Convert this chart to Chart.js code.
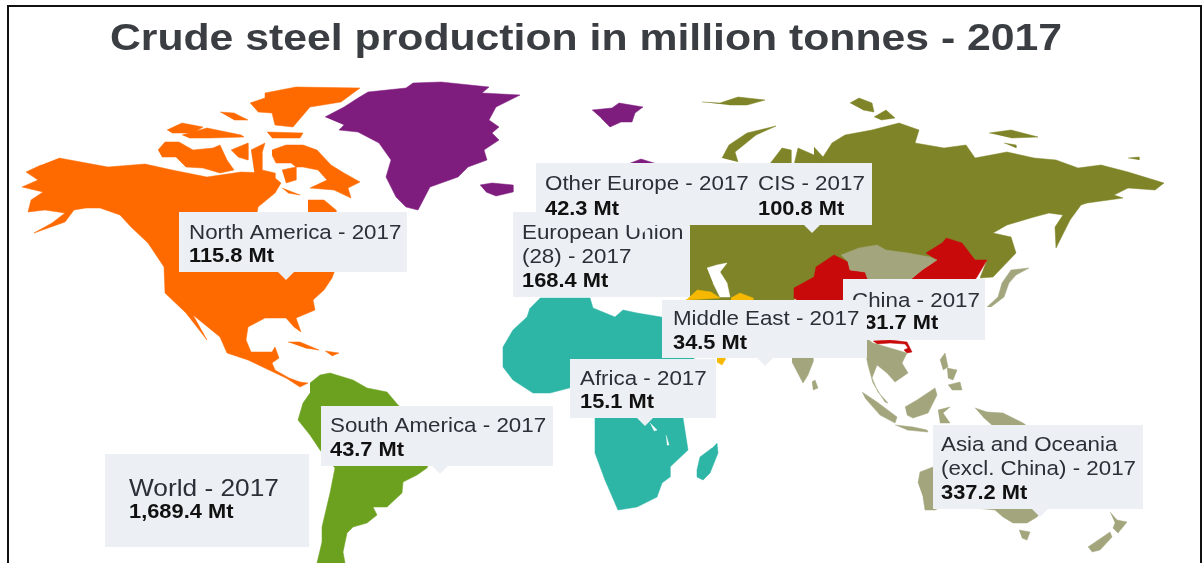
<!DOCTYPE html>
<html><head><meta charset="utf-8">
<style>
html,body{margin:0;padding:0;background:#fff;width:1203px;height:563px;overflow:hidden}
#wrap{position:relative;width:1203px;height:563px;overflow:hidden}
canvas{display:block;filter:blur(0.5px)}
#frame{position:absolute;left:7px;top:5px;width:1191px;height:600px;border:2px solid #111;pointer-events:none}
</style>
<script src="https://cdn.jsdelivr.net/npm/chart.js@4/dist/chart.umd.min.js"></script>
</head><body>
<div id="wrap"><canvas id="c" width="1203" height="563"></canvas><div id="frame"></div></div>
<script>
const TITLE = 'Crude steel production in million tonnes - 2017';
const YEAR = '2017';
const boxNames = ['World','North America','South America','Africa','China','Middle East','European Union\n(28)','Other Europe','CIS','Asia and Oceania\n(excl. China)'];
const boxValues = ['1,689.4','115.8','43.7','15.1','831.7','34.5','168.4','42.3','100.8','337.2'];

// Region outlines in map units
const northAmerica = [
 [[59,158],[108,167],[145,164],[172,170],[207,177],[241,172],[269,173],[281,183],[275,193],[258,207],[257,213],[257,270],[335,270],[332,278],[324,290],[313,300],[315,310],[296,318],[301,332],[294,327],[286,318],[265,318],[248,327],[246,340],[251,352],[272,352],[275,347],[279,358],[272,363],[275,370],[289,378],[300,382],[308,383],[300,387],[286,378],[269,370],[248,360],[227,353],[220,337],[193,315],[207,340],[186,313],[165,293],[164,267],[148,243],[131,227],[120,215],[100,208],[86,208],[74,210],[65,222],[34,233],[52,223],[65,213],[45,210],[28,212],[31,200],[43,192],[22,187],[38,180],[26,172],[41,165]],
 [[308,200],[324,200],[336,210],[336,214],[308,214]],
 [[272,150],[286,145],[303,145],[317,150],[331,165],[344,173],[360,182],[348,188],[351,198],[334,190],[310,188],[327,180],[318,170],[303,167],[296,167],[291,163],[276,163],[272,155]],
 [[158,150],[165,142],[179,142],[193,150],[213,148],[220,145],[227,160],[234,170],[220,173],[203,168],[186,167],[176,157],[162,157]],
 [[250,103],[265,98],[265,93],[296,87],[360,88],[341,102],[310,107],[293,127],[275,125],[272,113],[258,112]],
 [[267,132],[303,133],[300,138],[272,138]],
 [[167,130],[182,123],[203,127],[193,133],[172,133]],
 [[182,135],[207,128],[241,135],[244,137],[210,138],[189,138]],
 [[220,112],[234,113],[248,120],[234,120]],
 [[231,150],[248,143],[248,160],[238,157]],
 [[251,150],[265,143],[262,153],[262,170],[275,173],[275,183],[255,177]],
 [[282,170],[296,167],[296,180],[286,183]],
 [[282,188],[300,195],[288,193]],
 [[288,342],[300,342],[319,350],[305,348]],
 [[325,351],[339,353],[332,356]]
];
const otherEurope = [
 [[325,117],[344,107],[358,98],[368,92],[406,88],[413,83],[441,82],[489,87],[482,93],[520,95],[496,107],[489,120],[499,127],[492,133],[499,140],[484,150],[487,160],[468,167],[458,177],[430,187],[418,210],[406,207],[396,197],[386,177],[391,160],[379,143],[358,132],[339,130],[344,125]],
 [[480,185],[492,183],[513,185],[513,192],[496,196],[486,192]],
 [[592,110],[612,108],[619,103],[643,107],[635,113],[632,122],[621,122],[610,127],[601,118]],
 [[628,164],[641,159],[657,164]],
 [[690,282],[697,282],[697,299],[690,299]]
];
const cis = [
 [[814,147],[823,157],[832,143],[845,135],[872,130],[899,123],[919,130],[915,143],[944,148],[966,145],[975,158],[1007,152],[1034,158],[1056,160],[1078,168],[1101,165],[1128,172],[1164,183],[1155,190],[1128,188],[1114,195],[1123,198],[1087,203],[1081,205],[1070,220],[1056,248],[1055,227],[1063,215],[1049,213],[1034,217],[1007,225],[993,233],[1011,237],[1016,253],[993,277],[980,278],[987,260],[940,262],[845,262],[800,290],[794,300],[690,300],[690,220],[814,170]],
 [[769,165],[782,148],[791,150],[791,165]],
 [[794,165],[798,148],[814,155],[823,165]],
 [[722,158],[729,145],[747,133],[776,126],[756,135],[735,152],[738,162]],
 [[850,103],[859,98],[872,103],[874,112],[863,110]],
 [[874,117],[886,110],[895,118],[881,120]],
 [[702,102],[720,103],[738,97],[765,100],[747,105],[729,105]],
 [[989,133],[1011,130],[1038,137],[1011,138]],
 [[1004,143],[1016,145],[1016,148]],
 [[1128,158],[1139,157],[1139,160]]
];
const caspian = [[[707,268],[717,265],[727,263],[720,272],[727,283],[730,297],[720,297],[713,283]]];
const middleEast = [
 [[697,290],[711,292],[720,298],[686,300]],
 [[731,298],[740,293],[753,298],[753,310],[731,310]],
 [[717,350],[725,350],[725,360],[722,365],[717,362]]
];
const china = [
 [[946,238],[962,243],[975,260],[987,260],[977,277],[971,285],[960,320],[925,335],[873,335],[841,330],[794,298],[794,288],[814,277],[816,267],[834,255],[848,262],[850,270],[865,272],[910,280],[922,270],[937,260],[926,253],[942,243]],
 [[873,341],[890,340],[907,342],[912,352],[907,353],[904,350],[908,348],[905,344],[890,343],[877,344]]
];
const asiaOceania = [
 [[841,255],[859,248],[877,245],[886,250],[908,253],[930,257],[937,260],[922,270],[910,280],[868,280],[865,272],[850,270],[848,262]],
 [[987,307],[998,297],[1002,283],[1011,270],[1029,268],[1016,275],[1009,283],[1004,297],[991,307]],
 [[792,350],[813,350],[813,362],[808,375],[803,383],[792,362]],
 [[812,382],[815,380],[818,388],[813,390]],
 [[866,338],[873,343],[907,353],[902,363],[908,373],[895,382],[887,373],[877,365],[872,378],[878,392],[888,403],[885,402],[873,383],[868,365],[865,350]],
 [[862,392],[877,402],[897,417],[895,423],[880,415],[865,398]],
 [[905,407],[917,400],[935,388],[937,395],[928,413],[913,418],[907,415]],
 [[895,425],[913,427],[927,430],[928,432],[907,430]],
 [[938,410],[950,407],[943,413],[950,423],[940,423]],
 [[940,360],[945,353],[948,367],[943,370]],
 [[947,368],[957,370],[953,380],[948,378]],
 [[948,385],[960,382],[962,390],[952,390]],
 [[975,408],[987,412],[1003,413],[1023,423],[1030,428],[993,426],[983,417]],
 [[918,483],[920,472],[933,467],[1000,440],[1040,460],[1050,500],[1043,510],[1037,517],[1027,523],[1013,523],[1003,517],[995,510],[945,505],[935,510],[925,510],[923,497]],
 [[1019,530],[1030,532],[1027,540],[1022,538]],
 [[1110,512],[1117,520],[1127,522],[1118,533],[1113,528],[1115,523]],
 [[1088,547],[1110,532],[1112,537],[1100,550],[1092,552]]
];
const africa = [
 [[540,298],[560,298],[590,298],[593,308],[615,317],[623,310],[637,313],[667,318],[697,363],[683,418],[688,450],[670,467],[670,477],[662,483],[657,497],[637,507],[618,510],[605,480],[595,453],[595,418],[573,387],[550,393],[533,393],[513,380],[503,367],[503,347],[513,330],[527,317],[530,308]],
 [[717,443],[718,453],[710,473],[703,480],[697,477],[697,470],[700,457],[712,448]]
];
const lakes = [[[650,423],[657,430],[654,431]],[[666,435],[669,445],[667,445]]];
const southAmerica = [
 [[310,383],[320,375],[330,373],[353,380],[367,388],[387,392],[398,405],[423,427],[430,460],[427,468],[417,475],[403,482],[402,493],[387,507],[373,507],[377,515],[367,523],[353,527],[347,533],[343,552],[345,563],[317,563],[322,542],[322,527],[330,493],[335,468],[320,450],[310,435],[298,420],[303,403],[310,393]]
];

// Label box geometry in map units
const boxLeft   = [105,179,321,570,843,662,513,536,752,933];
const boxTop    = [454,212,406,359,279,300,212,163,163,425];
const boxRight  = [309,407,553,716,985,867,690,752,872,1143];
const boxBottom = [547,272,466,418,340,358,297,225,225,509];
const textLeft  = [129,189,330,580,852,673,522,545,758,941];
const firstBase = [496,239,432,385,307,325,239,190,190,451];
const arrowAt   = [null,286,440,645,null,765,null,643,812,1040];
const nameSize  = [24,20.5,20.5,20.5,20.5,20.5,20.5,20.5,20.5,20.5];
const lineStep  = [22,23,24,23,22,24,24,25,25,24];
const NAME_STRETCH = [1.095,1.09,1.09,1.09,1.09,1.09,1.09,1.09,1.09,1.09];
const VALUE_STRETCH = 1.12, TITLE_STRETCH = 1.155;

const layers = [
 [northAmerica,'#FF6A00'],[otherEurope,'#7F1D7F'],[cis,'#7E8427'],[caspian,'#FFFFFF'],
 [middleEast,'#F6B800'],[china,'#C80A0A'],[asiaOceania,'#A3A67D'],[africa,'#2DB5A6'],
 [lakes,'#FFFFFF'],[southAmerica,'#6CA11F']
];
const datasets = [];
layers.forEach(([polys,color])=>polys.forEach(p=>datasets.push({
  data:p.map(([x,y])=>({x,y})),showLine:true,fill:'shape',backgroundColor:color,
  borderColor:color,borderWidth:0.5,pointRadius:0,tension:0,clip:false
})));
datasets.forEach((d,i)=>{d.order=datasets.length-i;});

function stretchedText(ctx,s,x,y,sx){
  ctx.save();ctx.translate(x,y);ctx.scale(sx,1);ctx.fillText(s,0,0);ctx.restore();
}
const labelBoxes = {
  id:'labelBoxes',
  afterDatasetsDraw(chart){
    const {ctx,scales:{x,y}} = chart;
    ctx.save();
    ctx.textBaseline='alphabetic';
    ctx.textAlign='center';ctx.fillStyle='#3a3d42';
    ctx.font='bold 37px "Liberation Sans", Arial, sans-serif';
    stretchedText(ctx,TITLE,x.getPixelForValue(586),y.getPixelForValue(50),TITLE_STRETCH);
    ctx.textAlign='left';
    boxNames.forEach((name,i)=>{
      const l=x.getPixelForValue(boxLeft[i]),r=x.getPixelForValue(boxRight[i]);
      const t=y.getPixelForValue(boxTop[i]),b=y.getPixelForValue(boxBottom[i]);
      ctx.fillStyle='#ECF0F4';
      ctx.fillRect(l,t,r-l,b-t);
      if(arrowAt[i]!==null){
        const a=x.getPixelForValue(arrowAt[i]);
        ctx.beginPath();ctx.moveTo(a-8,b);ctx.lineTo(a,b+8);ctx.lineTo(a+8,b);ctx.closePath();ctx.fill();
      }
      const lines=name.split('\n');
      lines[lines.length-1]+=' - '+YEAR;
      ctx.fillStyle='#2b2f38';
      ctx.font=nameSize[i]+'px "Liberation Sans", Arial, sans-serif';
      const tx=x.getPixelForValue(textLeft[i]);
      let by=y.getPixelForValue(firstBase[i]);
      lines.forEach((s,j)=>{stretchedText(ctx,s,tx,by,NAME_STRETCH[i]);if(j<lines.length-1)by+=lineStep[i];});
      by+=lineStep[i];
      ctx.fillStyle='#111';
      ctx.font='bold 19.5px "Liberation Sans", Arial, sans-serif';
      stretchedText(ctx,boxValues[i]+' Mt',tx,by,VALUE_STRETCH);
    });
    ctx.restore();
  }
};

new Chart(document.getElementById('c'),{
  type:'scatter',
  data:{datasets},
  plugins:[labelBoxes],
  options:{
    responsive:false,animation:false,events:[],
    scales:{
      x:{type:'linear',display:false,min:0,max:1203},
      y:{type:'linear',display:false,reverse:true,min:0,max:563}
    },
    plugins:{legend:{display:false},tooltip:{enabled:false},title:{display:false}}
  }
});
</script>
</body></html>
